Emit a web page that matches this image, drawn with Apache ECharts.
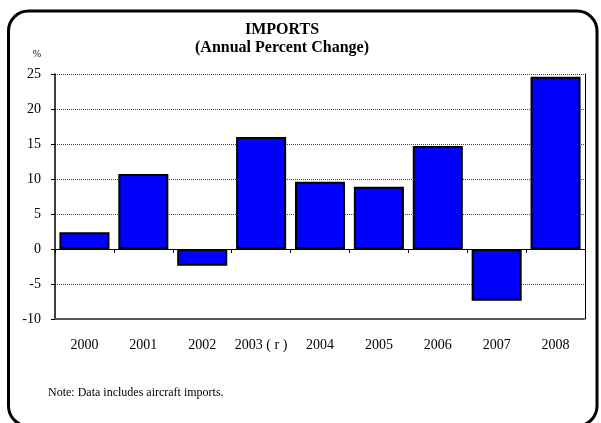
<!DOCTYPE html>
<html>
<head>
<meta charset="utf-8">
<script src="https://cdn.jsdelivr.net/npm/echarts@6/dist/echarts.min.js"></script>
<style>
  html, body { margin: 0; padding: 0; background: #fff; }
  #myChart { width: 601px; height: 423px; }
</style>
</head>
<body>
<div id="myChart"></div>
<script>
// data
const years = ['2000', '2001', '2002', '2003 ( r )', '2004', '2005', '2006', '2007', '2008'];
const imports = [2.4, 10.7, -2.4, 16.0, 9.6, 8.9, 14.7, -7.4, 24.6];
const yTicks = { min: -10, max: 25, step: 5 };

const serif = '"Liberation Serif", "DejaVu Serif", serif';

let myChart = echarts.init(document.getElementById('myChart'));
let option = {
  backgroundColor: '#fff',
  animation: false,
  graphic: [
    {
      type: 'rect',
      shape: { x: 8.5, y: 11, width: 588.5, height: 415, r: 20 },
      style: { fill: 'none', stroke: '#000', lineWidth: 3 },
      z: 100
    },
    {
      type: 'text',
      x: 282, y: 30,
      style: {
        text: 'IMPORTS', fontFamily: serif, fontSize: 16, fontWeight: 'bold',
        fill: '#000', align: 'center', verticalAlign: 'middle'
      }
    },
    {
      type: 'text',
      x: 282, y: 48,
      style: {
        text: '(Annual Percent Change)', fontFamily: serif, fontSize: 16, fontWeight: 'bold',
        fill: '#000', align: 'center', verticalAlign: 'middle'
      }
    },
    {
      type: 'text',
      x: 37, y: 54,
      style: { text: '%', fontFamily: serif, fontSize: 10, fill: '#000', align: 'center', verticalAlign: 'middle' }
    },
    {
      type: 'text',
      x: 48, y: 393,
      style: { text: 'Note: Data includes aircraft imports.', fontFamily: serif, fontSize: 12, fill: '#000', verticalAlign: 'middle' }
    }
  ],
  grid: { left: 55, right: 16, top: 74, bottom: 104 },
  xAxis: [
    {
      type: 'category',
      data: years,
      axisLine: { onZero: true, lineStyle: { color: '#000', width: 1 } },
      axisTick: { show: true, interval: 0, length: 4, lineStyle: { color: '#000' } },
      axisLabel: { show: false, interval: 0 }
    },
    {
      type: 'category',
      data: years,
      position: 'bottom',
      axisLine: { onZero: false, lineStyle: { color: '#555', width: 2, type: [1, 1] } },
      axisTick: { show: false },
      axisLabel: { interval: 0, margin: 19, fontFamily: serif, fontSize: 14, color: '#000' }
    }
  ],
  yAxis: [
    {
      type: 'value',
      min: yTicks.min,
      max: yTicks.max,
      interval: yTicks.step,
      axisLine: { show: true, lineStyle: { color: '#000', width: 1.5 } },
      axisTick: { show: true, length: 4, lineStyle: { color: '#000' } },
      axisLabel: { margin: 14, fontFamily: serif, fontSize: 14, color: '#000' },
      splitLine: { show: true, lineStyle: { color: '#444', width: 1, type: [1, 1] } }
    },
    {
      type: 'value',
      min: yTicks.min,
      max: yTicks.max,
      interval: yTicks.step,
      position: 'right',
      axisLine: { show: true, lineStyle: { color: '#000', width: 1 } },
      axisTick: { show: false },
      axisLabel: { show: false },
      splitLine: { show: false }
    }
  ],
  series: [
    {
      type: 'bar',
      data: imports,
      xAxisIndex: 0,
      yAxisIndex: 0,
      barCategoryGap: '15%',
      itemStyle: { color: '#0000FF', borderColor: '#000', borderWidth: 2 }
    }
  ]
};
myChart.setOption(option);
</script>
</body>
</html>
